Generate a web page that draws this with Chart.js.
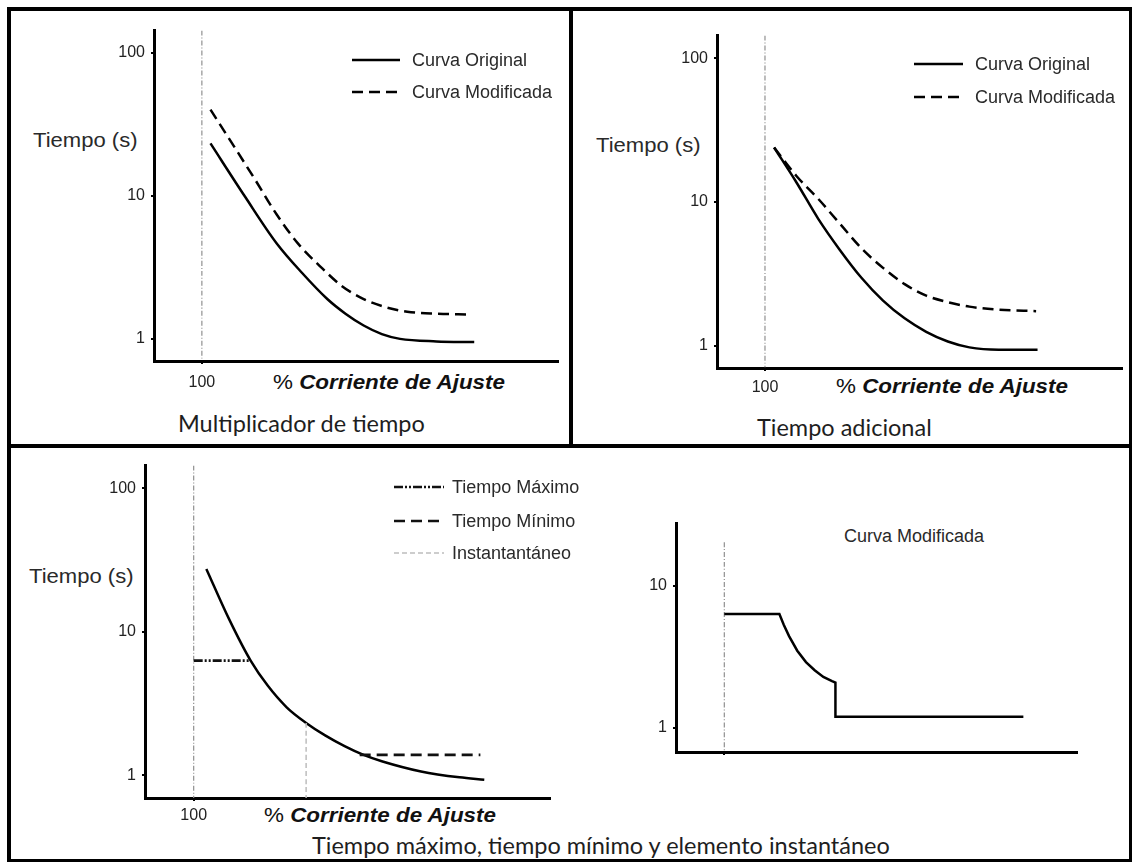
<!DOCTYPE html>
<html>
<head>
<meta charset="utf-8">
<title>Curvas de tiempo</title>
<script src="https://cdn.jsdelivr.net/npm/chart.js@4.4.1/dist/chart.umd.min.js"></script>
<style>
  html, body { margin: 0; padding: 0; background: #fff; }
  #page { position: relative; width: 1132px; height: 863px; overflow: hidden; background: #fff; }
  .rule { position: absolute; background: #000; }
  canvas { position: absolute; }
  .txt { position: absolute; white-space: nowrap; line-height: 1; transform-origin: 0 50%; }
  .ylab { font: 21px "Liberation Sans", Arial, sans-serif; color: #2a2a2a; transform: translateY(-50%) scaleX(1.05); }
  .xlab { font: 20px "Liberation Sans", Arial, sans-serif; color: #111; transform: translateY(-50%) scaleX(1.12); }
  .xlab b { font-style: italic; }
  .cap { font: 23.5px Lato, "Open Sans", sans-serif; color: #1e1e1e; transform: translateY(-50%); }
  .note { font: 18px "Liberation Sans", Arial, sans-serif; color: #2a2a2a; transform: translateY(-50%); }
</style>
</head>
<body>
<div id="page">
  <!-- marco y divisiones -->
  <div class="rule" style="left:7px;top:7px;width:1125px;height:4px"></div>
  <div class="rule" style="left:7px;top:7px;width:4px;height:855px"></div>
  <div class="rule" style="left:1129px;top:7px;width:3px;height:855px"></div>
  <div class="rule" style="left:7px;top:859px;width:1125px;height:3px"></div>
  <div class="rule" style="left:569px;top:7px;width:4px;height:440px"></div>
  <div class="rule" style="left:7px;top:444px;width:1125px;height:4px"></div>

  <div class="txt ylab" style="left:33px;top:140px">Tiempo (s)</div>
  <div class="txt xlab" style="left:273px;top:382px">% <b>Corriente de Ajuste</b></div>
  <div class="txt cap" style="left:178px;top:423px">Multiplicador de tiempo</div>

  <div class="txt ylab" style="left:596px;top:145px">Tiempo (s)</div>
  <div class="txt xlab" style="left:836px;top:386px">% <b>Corriente de Ajuste</b></div>
  <div class="txt cap" style="left:757px;top:427px">Tiempo adicional</div>

  <div class="txt ylab" style="left:29px;top:576px">Tiempo (s)</div>
  <div class="txt xlab" style="left:264px;top:815px">% <b>Corriente de Ajuste</b></div>
  <div class="txt cap" style="left:312px;top:845px">Tiempo máximo, tiempo mínimo y elemento instantáneo</div>

  <div class="txt note" style="left:844px;top:536px">Curva Modificada</div>
</div>

<script>
// Multiplicador de tiempo: % de corriente de ajuste contra tiempo (s)
const corrMultOrig = [118, 190, 256, 309, 362, 400, 438, 476, 514, 590, 669];
const tiempoMultOrig = [23.3, 9.9, 4.67, 2.90, 1.90, 1.50, 1.24, 1.08, 1.0, 0.96, 0.95];
const corrMultMod = [118, 210, 256, 301, 347, 392, 438, 483, 529, 590, 658];
const tiempoMultMod = [40.2, 13.2, 7.44, 4.64, 3.22, 2.35, 1.90, 1.67, 1.55, 1.50, 1.48];

// Tiempo adicional
const corrAdicOrig = [119, 166, 211, 256, 301, 346, 391, 436, 481, 526, 587, 668];
const tiempoAdicOrig = [23.9, 13.6, 7.63, 4.64, 2.97, 2.06, 1.55, 1.25, 1.07, 0.974, 0.939, 0.939];
const corrAdicMod = [119, 166, 211, 256, 301, 346, 391, 436, 481, 526, 587, 665];
const tiempoAdicMod = [23.9, 15.1, 10.5, 7.06, 4.76, 3.48, 2.68, 2.23, 2.01, 1.87, 1.78, 1.74];

// Tiempo máximo, mínimo e instantáneo
const corrCurva = [126, 173, 217, 252, 291, 331, 370, 410, 449, 488, 567, 646, 697];
const tiempoCurva = [27.4, 12.2, 6.30, 4.22, 2.98, 2.32, 1.90, 1.60, 1.39, 1.25, 1.065, 0.969, 0.934];
const corrMaximo = [100, 217];
const tiempoMaximo = 6.3;
const corrMinimo = [441, 689];
const tiempoMinimo = 1.39;
const corrInstantaneo = 331;
const tiempoInstantaneo = 2.32;

// Curva modificada resultante
const corrResult = [100, 214, 223, 234, 251, 269, 287, 305, 323, 330, 330, 719];
const tiempoResult = [6.34, 6.34, 5.32, 4.43, 3.49, 2.90, 2.54, 2.28, 2.13, 2.08, 1.19, 1.19];

// rangos de los ejes
const ajuste = 100;
const rangoMult = { xMax: 844, yMin: 0.730, yMax: 143.5 };
const rangoAdic = { xMax: 844, yMin: 0.708, yMax: 143.5 };
const rangoInst = { xMax: 832, yMin: 0.696, yMax: 143.6 };
const rangoResult = { xMax: 830, yMin: 0.672, yMax: 27.6, yTop: 20.4 };
const ticksTiempo = [1, 10, 100];
const ticksResult = [1, 10];

const page = document.getElementById('page');
const FONT = 'Liberation Sans';

const pts = (xs, ys) => xs.map((x, i) => ({ x, y: ys[i] }));

// leyenda dibujada dentro del área del gráfico con el trazo de cada serie
const keyLegend = {
  id: 'keyLegend',
  afterDraw(chart, args, opts) {
    if (!opts.rows) return;
    const ctx = chart.ctx;
    opts.rows.forEach(row => {
      const ds = chart.data.datasets[row.dataset];
      const y = row.y - opts.oy;
      ctx.save();
      ctx.strokeStyle = ds.borderColor;
      ctx.lineWidth = ds.borderWidth;
      ctx.setLineDash(ds.borderDash || []);
      ctx.beginPath();
      ctx.moveTo(opts.x0 - opts.ox, y);
      ctx.lineTo(opts.x1 - opts.ox, y);
      ctx.stroke();
      ctx.setLineDash([]);
      ctx.fillStyle = '#2a2a2a';
      ctx.font = '18px "' + FONT + '"';
      ctx.textBaseline = 'middle';
      ctx.fillText(ds.label, opts.tx - opts.ox, y + 1);
      ctx.restore();
    });
  }
};
Chart.register(keyLegend);

const axisLine = { display: true, color: '#000', width: 3 };
const tickMarks = { display: true, drawOnChartArea: false, drawTicks: true, tickLength: 3, color: '#000', lineWidth: 2 };

function tiempoAxis(r, vals) {
  return {
    type: 'logarithmic', min: r.yMin, max: r.yMax,
    afterBuildTicks: s => { s.ticks = vals.map(v => ({ value: v })); },
    afterFit: s => { s.width = 70; },
    border: axisLine, grid: tickMarks,
    ticks: { color: '#222', font: { family: FONT, size: 16 }, padding: 6, callback: v => String(v) }
  };
}

function corrAxis(r, pad, show) {
  return {
    type: 'linear', min: 0, max: r.xMax,
    afterBuildTicks: s => { s.ticks = [{ value: ajuste }]; },
    afterFit: s => { s.height = 45; },
    border: axisLine, grid: tickMarks,
    ticks: { display: show, color: '#222', font: { family: FONT, size: 16 }, padding: pad, callback: v => String(v) }
  };
}

function linea(label, data, dash, color, width) {
  return {
    label, data, borderColor: color || '#000', borderWidth: width || 2.5,
    borderDash: dash || [], pointRadius: 0, fill: false,
    cubicInterpolationMode: 'monotone'
  };
}

function referencia(r, top) {
  return linea('', pts([ajuste, ajuste], [top, r.yMin]), [5, 2, 1, 2], '#8f8f8f', 1.2);
}

function panel(area, datasets, xAxis, yAxis, legend, padRight) {
  const right = padRight || 10;
  const c = document.createElement('canvas');
  const ox = area.left - 70, oy = area.top - 10;
  c.width = area.right - area.left + 70 + right;
  c.height = area.bottom - area.top + 55;
  c.style.left = ox + 'px';
  c.style.top = oy + 'px';
  page.appendChild(c);
  new Chart(c, {
    type: 'line',
    data: { datasets },
    options: {
      responsive: false, animation: false, events: [],
      layout: { padding: { top: 10, right, left: 0, bottom: 0 } },
      scales: { x: xAxis, y: yAxis },
      plugins: {
        legend: { display: false }, tooltip: { enabled: false },
        keyLegend: Object.assign({ ox, oy }, legend || {})
      }
    }
  });
}

// Multiplicador de tiempo
panel({ left: 154, top: 25, right: 558, bottom: 361 }, [
  linea('Curva Original', pts(corrMultOrig, tiempoMultOrig)),
  linea('Curva Modificada', pts(corrMultMod, tiempoMultMod), [11, 6]),
  referencia(rangoMult, rangoMult.yMax)
], corrAxis(rangoMult, 9, true), tiempoAxis(rangoMult, ticksTiempo),
  { x0: 352, x1: 400, tx: 412, rows: [{ dataset: 0, y: 60 }, { dataset: 1, y: 92 }] });

// Tiempo adicional
panel({ left: 717, top: 30, right: 1122, bottom: 368 }, [
  linea('Curva Original', pts(corrAdicOrig, tiempoAdicOrig)),
  linea('Curva Modificada', pts(corrAdicMod, tiempoAdicMod), [11, 6]),
  referencia(rangoAdic, rangoAdic.yMax)
], corrAxis(rangoAdic, 7, true), tiempoAxis(rangoAdic, ticksTiempo),
  { x0: 914, x1: 963, tx: 975, rows: [{ dataset: 0, y: 64 }, { dataset: 1, y: 97 }] });

// Tiempo máximo, mínimo y elemento instantáneo
panel({ left: 145, top: 460, right: 550, bottom: 798 }, [
  linea('Tiempo Máximo', pts(corrMaximo, [tiempoMaximo, tiempoMaximo]), [9, 2, 2, 2, 2, 2], '#111', 2.6),
  linea('Tiempo Mínimo', pts(corrMinimo, [tiempoMinimo, tiempoMinimo]), [11, 6], '#111', 2.6),
  linea('Instantantáneo', pts([corrInstantaneo, corrInstantaneo], [tiempoInstantaneo, rangoInst.yMin]), [5, 3], '#bdbdbd', 1.5),
  linea('', pts(corrCurva, tiempoCurva)),
  referencia(rangoInst, rangoInst.yMax)
], corrAxis(rangoInst, 5, true), tiempoAxis(rangoInst, ticksTiempo),
  { x0: 394, x1: 444, tx: 452, rows: [{ dataset: 0, y: 487 }, { dataset: 1, y: 521 }, { dataset: 2, y: 553 }] }, 60);

// Curva modificada resultante
panel({ left: 676, top: 518, right: 1077, bottom: 752 }, [
  Object.assign(linea('Curva Modificada', pts(corrResult, tiempoResult)), { cubicInterpolationMode: 'default', tension: 0 }),
  referencia(rangoResult, rangoResult.yTop)
], corrAxis(rangoResult, 5, false), tiempoAxis(rangoResult, ticksResult), null);
</script>
</body>
</html>
